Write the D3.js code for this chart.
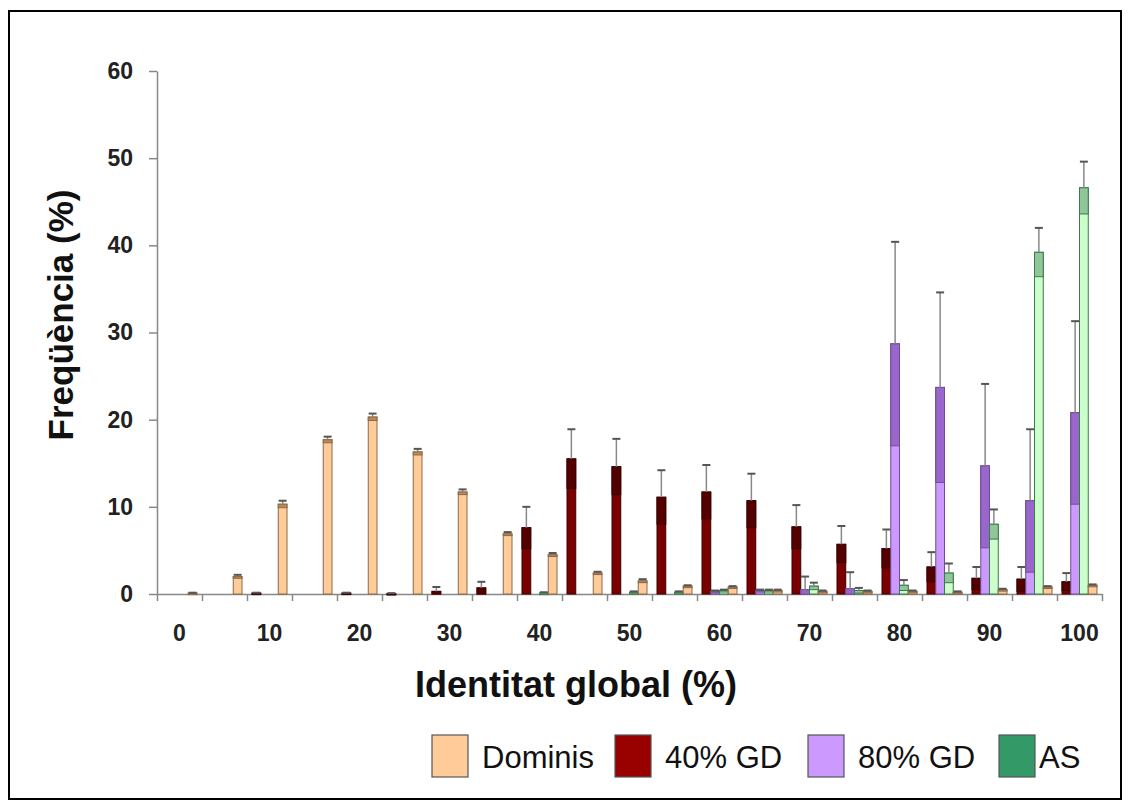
<!DOCTYPE html>
<html>
<head>
<meta charset="utf-8">
<script src="https://cdn.jsdelivr.net/npm/d3@7"></script>
<style>
  body { margin: 0; background: #fff; }
  svg text { font-family: "Liberation Sans", Arial, sans-serif; }
</style>
</head>
<body>
<div id="chart"></div>
<script>
// categories: identitat global 0..100 en passos de 5
const categories = [0, 5, 10, 15, 20, 25, 30, 35, 40, 45, 50, 55, 60, 65, 70, 75, 80, 85, 90, 95, 100];
const tickLabels = [0, 10, 20, 30, 40, 50, 60, 70, 80, 90, 100];
const yTicks = [0, 10, 20, 30, 40, 50, 60];

const dominis    = [0.1, 2.0, 10.3, 17.7, 20.3, 16.3, 11.7, 6.9, 4.5, 2.4, 1.5, 0.9, 0.8, 0.4, 0.3, 0.3, 0.3, 0.2, 0.5, 0.8, 1.0];
const dominisErr = [0.05, 0.2, 0.4, 0.35, 0.4, 0.35, 0.3, 0.2, 0.2, 0.15, 0.2, 0.1, 0.1, 0.1, 0.1, 0.1, 0.1, 0.1, 0.1, 0.1, 0.1];
const gd40       = [0, 0, 0.1, 0, 0.1, 0.05, 0.3, 0.7, 7.6, 15.5, 14.6, 11.1, 11.7, 10.7, 7.7, 5.7, 5.2, 3.1, 1.8, 1.7, 1.4];
const gd40Err    = [0, 0, 0.05, 0, 0.05, 0.05, 0.5, 0.7, 2.4, 3.4, 3.2, 3.1, 3.1, 3.1, 2.5, 2.1, 2.2, 1.7, 1.3, 1.4, 1.0];
const gd80       = [0, 0, 0, 0, 0, 0, 0, 0, 0, 0, 0, 0, 0.3, 0.4, 0.5, 0.6, 28.7, 23.7, 14.7, 10.7, 20.8];
const gd80Err    = [0, 0, 0, 0, 0, 0, 0, 0, 0, 0, 0, 0, 0.1, 0.1, 1.5, 1.9, 11.7, 10.9, 9.4, 8.2, 10.5];
const as         = [0, 0, 0, 0, 0, 0, 0, 0, 0.1, 0, 0.2, 0.2, 0.4, 0.4, 0.9, 0.4, 1.0, 2.4, 8.0, 39.2, 46.6];
const asErr      = [0, 0, 0, 0, 0, 0, 0, 0, 0.1, 0, 0.1, 0.1, 0.1, 0.1, 0.4, 0.3, 0.6, 1.1, 1.7, 2.8, 3.0];

// ordre dins de cada grup: 40% GD, 80% GD, AS, Dominis
const series = [
  { key: "gd40", name: "40% GD", values: gd40, err: gd40Err, fill: "#7a0000", dark: "#520000", stroke: "#3a0000", legend: "#990000" },
  { key: "gd80", name: "80% GD", values: gd80, err: gd80Err, fill: "#cc99ff", dark: "#9966cc", stroke: "#6e5090", legend: "#cc99ff" },
  { key: "as", name: "AS", values: as, err: asErr, fill: "#ccffcc", dark: "#8fc79a", stroke: "#3d7a4a", legend: "#339966" },
  { key: "dominis", name: "Dominis", values: dominis, err: dominisErr, fill: "#ffcc99", dark: "#c08850", stroke: "#8a6a4a", legend: "#ffcc99" }
];
const legendOrder = ["dominis", "gd40", "gd80", "as"];

const W = 1131, H = 807;
const svg = d3.select("#chart").append("svg")
  .attr("width", W)
  .attr("height", H);

svg.append("rect")
  .attr("x", 9).attr("y", 11)
  .attr("width", 1112).attr("height", 788)
  .attr("fill", "#fff")
  .attr("stroke", "#000")
  .attr("stroke-width", 2);

const x0 = d3.scaleBand()
  .domain(categories)
  .range([157, 1102])
  .padding(0);

const x1 = d3.scaleBand()
  .domain(series.map(s => s.key))
  .range([5, 40]);

const y = d3.scaleLinear()
  .domain([0, 60])
  .range([594, 71]);

const axisColor = "#888";

// eix Y
const yAxis = svg.append("g")
  .attr("transform", "translate(157,0)")
  .call(d3.axisLeft(y).tickValues(yTicks).tickSize(8).tickPadding(16).tickSizeOuter(0));
yAxis.select(".domain").attr("stroke", axisColor).attr("stroke-width", 1.5);
yAxis.selectAll(".tick line").attr("stroke", axisColor).attr("stroke-width", 1.5);
yAxis.selectAll("text")
  .attr("fill", "#222")
  .style("font-size", "23px")
  .style("font-weight", "bold");

// eix X: marques a les vores de cada grup
const xe = d3.scaleLinear().domain([-2.5, 102.5]).range([157, 1102]);
const edges = categories.map(c => c - 2.5).concat([102.5]);
const xAxis = svg.append("g")
  .attr("transform", "translate(0,594)")
  .call(d3.axisBottom(xe).tickValues(edges).tickSize(7).tickFormat("").tickSizeOuter(0));
xAxis.select(".domain").attr("stroke", axisColor).attr("stroke-width", 1.5);
xAxis.selectAll(".tick line").attr("stroke", axisColor).attr("stroke-width", 1.5);

const xLabels = svg.append("g")
  .attr("transform", "translate(0,594)")
  .call(d3.axisBottom(x0).tickValues(tickLabels).tickSize(0).tickPadding(31));
xLabels.select(".domain").remove();
xLabels.selectAll("text")
  .attr("fill", "#222")
  .style("font-size", "23px")
  .style("font-weight", "bold");

// barres
const groups = svg.append("g")
  .selectAll("g")
  .data(categories)
  .join("g")
  .attr("transform", d => `translate(${x0(d)},0)`);

series.forEach(s => {
  groups.each(function(c, i) {
    const v = s.values[i];
    if (v <= 0) return;
    const e = s.err[i];
    const g = d3.select(this);
    const bx = x1(s.key);
    const bw = x1.bandwidth();
    g.append("rect")
      .attr("x", bx).attr("width", bw)
      .attr("y", y(v)).attr("height", y(0) - y(v))
      .attr("fill", s.fill)
      .attr("stroke", s.stroke)
      .attr("stroke-width", 1);
    // part inferior de la barra d'error (dins la barra)
    const lo = Math.max(0, v - e);
    g.append("rect")
      .attr("x", bx).attr("width", bw)
      .attr("y", y(v)).attr("height", Math.max(1.5, y(lo) - y(v)))
      .attr("fill", s.dark)
      .attr("stroke", s.stroke)
      .attr("stroke-width", 1);
    // part superior
    if (e > 0) {
      const cx = bx + bw / 2;
      g.append("line")
        .attr("x1", cx).attr("x2", cx)
        .attr("y1", y(v)).attr("y2", y(v + e))
        .attr("stroke", "#888")
        .attr("stroke-width", 1.5);
      g.append("line")
        .attr("x1", cx - 4).attr("x2", cx + 4)
        .attr("y1", y(v + e)).attr("y2", y(v + e))
        .attr("stroke", "#555")
        .attr("stroke-width", 2);
    }
  });
});

// títols
svg.append("text")
  .attr("transform", "translate(73,315) rotate(-90)")
  .attr("text-anchor", "middle")
  .style("font-size", "35px")
  .style("font-weight", "bold")
  .attr("fill", "#111")
  .text("Freqüència (%)");

svg.append("text")
  .attr("x", 576).attr("y", 697)
  .attr("text-anchor", "middle")
  .style("font-size", "36px")
  .style("font-weight", "bold")
  .attr("fill", "#111")
  .text("Identitat global (%)");

// llegenda
const legendX = [432, 615, 808, 999];
const legend = svg.append("g")
  .selectAll("g")
  .data(legendOrder.map(k => series.find(s => s.key === k)))
  .join("g")
  .attr("transform", (d, i) => `translate(${legendX[i]},735)`);
legend.append("rect")
  .attr("width", 36).attr("height", 42)
  .attr("fill", d => d.legend)
  .attr("stroke", "#555")
  .attr("stroke-width", 1.2);
legend.append("text")
  .attr("x", d => d.key === "as" ? 40 : 50).attr("y", 33)
  .style("font-size", "31px")
  .attr("fill", "#111")
  .text(d => d.name);
</script>
</body>
</html>
